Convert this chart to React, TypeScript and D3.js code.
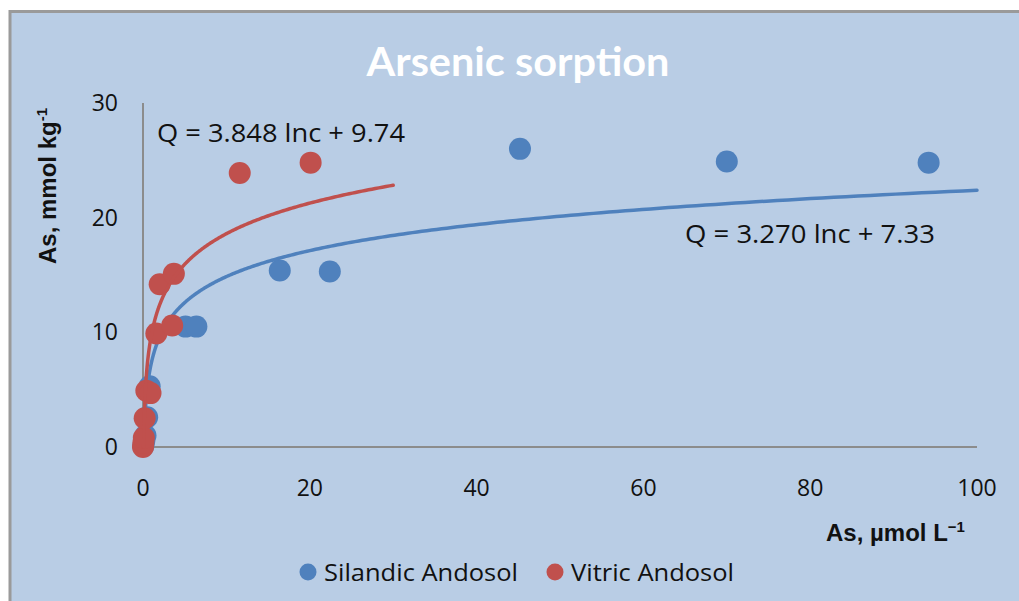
import React from 'react';
import * as d3 from 'd3';

// Silandic Andosol
const silandicX = [0.05, 0.15, 0.3, 0.5, 0.8, 5.1, 6.4, 16.4, 22.4, 45.2, 70.0, 94.2];
const silandicY = [0.1, 0.5, 1.0, 2.6, 5.3, 10.5, 10.5, 15.4, 15.3, 26.0, 24.9, 24.8];

// Vitric Andosol
const vitricX = [0.0, 0.05, 0.1, 0.2, 0.4, 0.9, 1.6, 3.5, 2.0, 3.7, 11.6, 20.1];
const vitricY = [0.0, 0.4, 0.8, 2.5, 4.9, 4.7, 9.9, 10.6, 14.2, 15.1, 23.9, 24.8];

// log trend lines: Q = a ln c + b, drawn up to cMax
const trendA = [3.270, 3.848];
const trendB = [7.33, 9.74];
const trendEnd = [100, 30];
const trendLabels = ['Q = 3.270 lnc + 7.33', 'Q = 3.848 lnc + 9.74'];

const seriesNames = ['Silandic Andosol', 'Vitric Andosol'];
const seriesColors = ['#4f81bd', '#c0504d'];

const xTicks = [0, 20, 40, 60, 80, 100];
const yTicks = [0, 10, 20, 30];

export default function App() {
  const width = 1019;
  const height = 601;

  const x = d3.scaleLinear().domain([0, 100]).range([143, 977]);
  const y = d3.scaleLinear().domain([0, 30]).range([447, 103]);

  const trendPath = (i: number) => {
    const c0 = Math.exp(-trendB[i] / trendA[i]);
    const pts = d3.range(0, 401).map(k => {
      const c = c0 * Math.pow(trendEnd[i] / c0, k / 400);
      return [c, trendA[i] * Math.log(c) + trendB[i]] as [number, number];
    });
    return d3.line<[number, number]>()
      .x(d => x(d[0]))
      .y(d => y(d[1]))(pts) || '';
  };

  const points = (xs: number[], ys: number[], color: string) =>
    xs.map((v, i) => (
      <circle key={i} cx={x(v)} cy={y(ys[i])} r={11} fill={color} />
    ));

  const sans = "'Open Sans', sans-serif";
  const arial = "'Liberation Sans', Arial, sans-serif";

  return (
    <div style={{ position: 'fixed', left: 0, top: 0 }}>
      <svg width={width} height={height} style={{ display: 'block' }}>
        <rect x={0} y={0} width={width} height={height} fill="#ffffff" />
        <rect x={10} y={11.5} width={width + 10} height={height + 10}
          fill="#b9cde5" stroke="#9a9a9a" strokeWidth={3} />

        {/* title */}
        <text x={518} y={76} textAnchor="middle" fill="#ffffff"
          fontFamily="Lato, sans-serif" fontWeight={700} fontSize={40}
          textLength={303} lengthAdjust="spacingAndGlyphs">
          Arsenic sorption
        </text>

        {/* axes */}
        <line x1={x(0)} x2={x(0)} y1={y(30)} y2={y(0)} stroke="#8c8c8c" strokeWidth={2} />
        <line x1={x(0)} x2={x(100)} y1={y(0)} y2={y(0)} stroke="#8c8c8c" strokeWidth={2} />

        {yTicks.map(t => (
          <text key={t} x={118} y={y(t) + 8} textAnchor="end"
            fontFamily={sans} fontSize={23} fill="#111">{t}</text>
        ))}
        {xTicks.map(t => (
          <text key={t} x={x(t)} y={496} textAnchor="middle"
            fontFamily={sans} fontSize={23} fill="#111">{t}</text>
        ))}

        {/* axis titles */}
        <text transform="translate(56,186) rotate(-90)" textAnchor="middle"
          fontFamily={arial} fontWeight={700} fontSize={24} fill="#111">
          As, mmol kg<tspan fontSize={15} dy={-9}>-1</tspan>
        </text>
        <text x={826} y={541} fontFamily={arial} fontWeight={700} fontSize={24} fill="#111">
          As, µmol L<tspan fontSize={15} dy={-9}>−1</tspan>
        </text>

        {/* series */}
        {points(silandicX, silandicY, seriesColors[0])}
        <path d={trendPath(0)} fill="none" stroke={seriesColors[0]} strokeWidth={3.5} strokeLinecap="round" />
        {points(vitricX, vitricY, seriesColors[1])}
        <path d={trendPath(1)} fill="none" stroke={seriesColors[1]} strokeWidth={3.5} strokeLinecap="round" />

        {/* equations */}
        <text x={685} y={243} fontFamily={sans} fontSize={26} fill="#111"
          textLength={250} lengthAdjust="spacingAndGlyphs">{trendLabels[0]}</text>
        <text x={157} y={142} fontFamily={sans} fontSize={26} fill="#111"
          textLength={248} lengthAdjust="spacingAndGlyphs">{trendLabels[1]}</text>

        {/* legend */}
        {seriesNames.map((n, i) => {
          const lx = [308, 555][i];
          const tl = [194, 163][i];
          return (
            <g key={n}>
              <circle cx={lx} cy={572} r={8.5} fill={seriesColors[i]} />
              <text x={lx + 16} y={581} fontFamily={sans} fontSize={24} fill="#111"
                textLength={tl} lengthAdjust="spacingAndGlyphs">{n}</text>
            </g>
          );
        })}
      </svg>
    </div>
  );
}
